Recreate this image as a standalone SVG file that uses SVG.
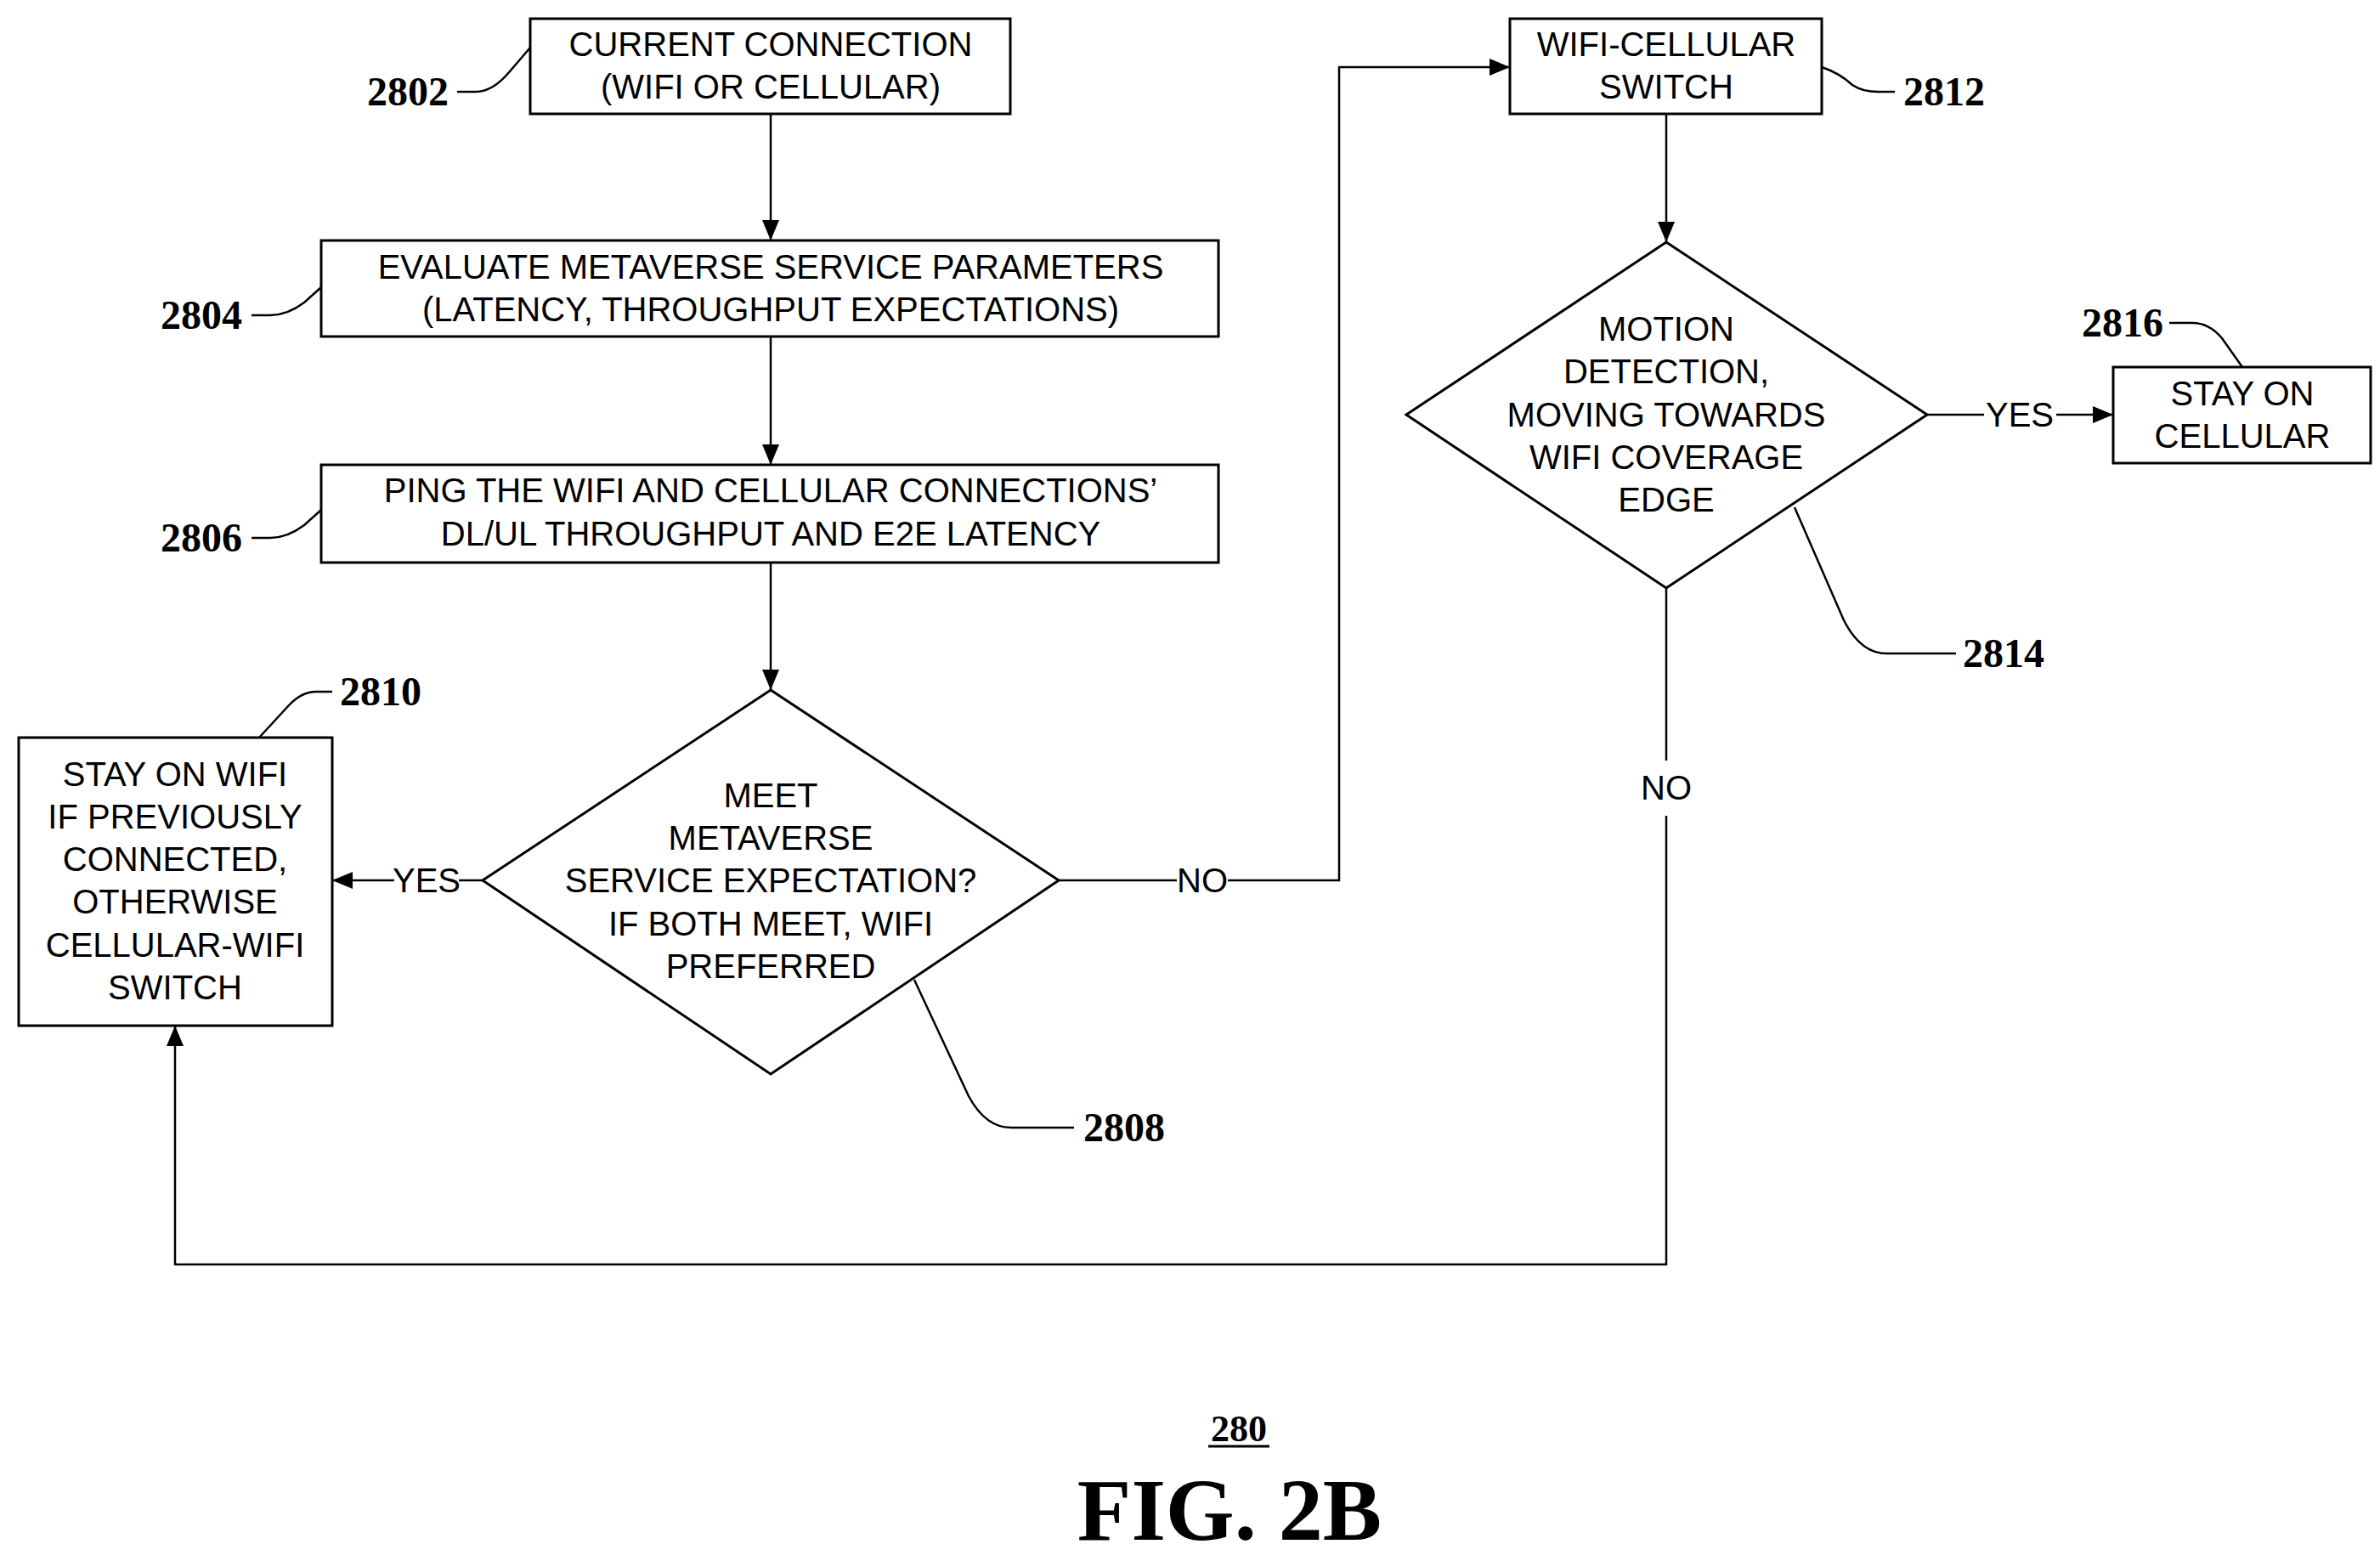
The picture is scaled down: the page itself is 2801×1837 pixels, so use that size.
<svg xmlns="http://www.w3.org/2000/svg" width="2801" height="1837" viewBox="0 0 2801 1837">
<style>
.b{fill:#fff;stroke:#000;stroke-width:3}
.t{font-family:"Liberation Sans",Arial,sans-serif;font-size:40px;text-anchor:middle;fill:#000}
.r{font-family:"Liberation Serif","Times New Roman",serif;font-weight:bold;font-size:48px;fill:#000}
.l{fill:none;stroke:#000;stroke-width:2.5}
.c{fill:none;stroke:#000;stroke-width:2.5}
</style>
<defs>
<marker id="ah" viewBox="0 0 24 20" markerWidth="24" markerHeight="20" refX="24" refY="10" orient="auto" markerUnits="userSpaceOnUse"><path d="M0,0L24,10L0,20z" fill="#000"/></marker></defs>
<rect width="2801" height="1837" fill="#fff"/>
<g id="connectors">
<path class="c" d="M907,134V283" marker-end="url(#ah)"/>
<path class="c" d="M907,396V547" marker-end="url(#ah)"/>
<path class="c" d="M907,662V812" marker-end="url(#ah)"/>
<path class="c" d="M568,1036H540M464,1036H391" marker-end="url(#ah)"/>
<text class="t" x="502" y="1050">YES</text>
<path class="c" d="M1246,1036H1385M1445,1036H1576V79H1777" marker-end="url(#ah)"/>
<text class="t" x="1415" y="1050">NO</text>
<path class="c" d="M1961,134V285" marker-end="url(#ah)"/>
<path class="c" d="M2268,488H2335M2420,488H2487" marker-end="url(#ah)"/>
<text class="t" x="2377" y="502">YES</text>
<path class="c" d="M1961,692V895M1961,960V1488H206V1207" marker-end="url(#ah)"/>
<text class="t" x="1961" y="941">NO</text>
</g>
<g id="n2802"><rect class="b" x="624" y="22" width="565" height="112"/>
<text class="t" x="907" y="66">CURRENT CONNECTION</text><text class="t" x="907" y="116">(WIFI OR CELLULAR)</text>
<text class="r" x="480" y="124" text-anchor="middle">2802</text><path class="l" d="M538,108H560Q580,108 600,84L624,56"/></g>
<g id="n2804"><rect class="b" x="378" y="283" width="1056" height="113"/>
<text class="t" x="907" y="328">EVALUATE METAVERSE SERVICE PARAMETERS</text><text class="t" x="907" y="378">(LATENCY, THROUGHPUT EXPECTATIONS)</text>
<text class="r" x="237" y="387" text-anchor="middle">2804</text><path class="l" d="M296,371H318Q338,371 358,356L378,338"/></g>
<g id="n2806"><rect class="b" x="378" y="547" width="1056" height="115"/>
<text class="t" x="907" y="591">PING THE WIFI AND CELLULAR CONNECTIONS’</text><text class="t" x="907" y="642">DL/UL THROUGHPUT AND E2E LATENCY</text>
<text class="r" x="237" y="649" text-anchor="middle">2806</text><path class="l" d="M296,633H318Q338,633 358,618L378,600"/></g>
<g id="n2808"><path class="b" d="M907,812L1246,1036L907,1264L568,1036Z"/>
<text class="t" x="907" y="950">MEET</text><text class="t" x="907" y="1000">METAVERSE</text><text class="t" x="907" y="1050">SERVICE EXPECTATION?</text><text class="t" x="907" y="1101">IF BOTH MEET, WIFI</text><text class="t" x="907" y="1151">PREFERRED</text>
<path class="l" d="M1076,1153L1140,1290Q1160,1327 1190,1327H1264"/><text class="r" x="1323" y="1343" text-anchor="middle">2808</text></g>
<g id="n2810"><rect class="b" x="22" y="868" width="369" height="339"/>
<text class="t" x="206" y="925">STAY ON WIFI</text><text class="t" x="206" y="975">IF PREVIOUSLY</text><text class="t" x="206" y="1025">CONNECTED,</text><text class="t" x="206" y="1075">OTHERWISE</text><text class="t" x="206" y="1126">CELLULAR-WIFI</text><text class="t" x="206" y="1176">SWITCH</text>
<path class="l" d="M305,868L340,830Q355,814 372,814H391"/><text class="r" x="448" y="830" text-anchor="middle">2810</text></g>
<g id="n2812"><rect class="b" x="1777" y="22" width="367" height="112"/>
<text class="t" x="1961" y="66">WIFI-CELLULAR</text><text class="t" x="1961" y="116">SWITCH</text>
<path class="l" d="M2144,79Q2165,86 2180,100Q2192,108 2210,108H2230"/><text class="r" x="2288" y="124" text-anchor="middle">2812</text></g>
<g id="n2814"><path class="b" d="M1961,285L2268,488L1961,692L1655,488Z"/>
<text class="t" x="1961" y="401">MOTION</text><text class="t" x="1961" y="451">DETECTION,</text><text class="t" x="1961" y="502">MOVING TOWARDS</text><text class="t" x="1961" y="552">WIFI COVERAGE</text><text class="t" x="1961" y="602">EDGE</text>
<path class="l" d="M2112,597L2170,730Q2190,769 2220,769H2302"/><text class="r" x="2358" y="785" text-anchor="middle">2814</text></g>
<g id="n2816"><rect class="b" x="2487" y="432" width="303" height="113"/>
<text class="t" x="2639" y="477">STAY ON</text><text class="t" x="2639" y="527">CELLULAR</text>
<text class="r" x="2546" y="396" text-anchor="end">2816</text><path class="l" d="M2553,380H2580Q2600,380 2615,398L2639,432"/></g>
<g id="title">
<text class="r" x="1458" y="1696" text-anchor="middle" style="font-size:44px">280</text><path d="M1422,1702H1494" stroke="#000" stroke-width="3"/>
<text class="r" x="1447" y="1812" text-anchor="middle" style="font-size:104px">FIG. 2B</text></g>
</svg>
